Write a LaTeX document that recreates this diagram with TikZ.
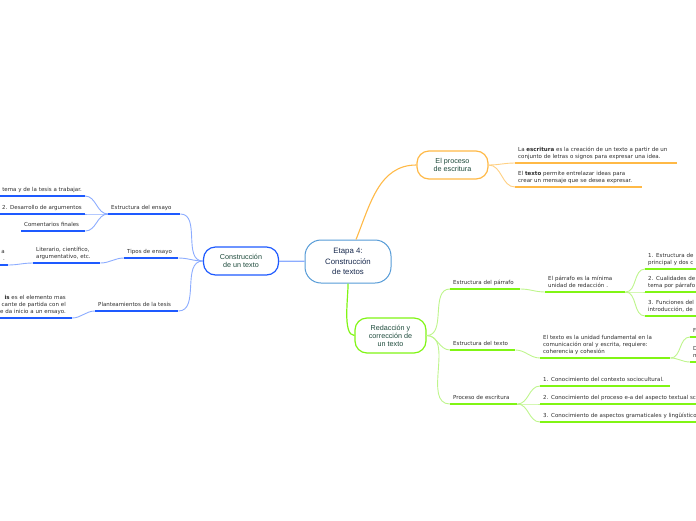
\documentclass[tikz,border=0pt]{standalone}
\usepackage{fontspec}
\setmainfont{DejaVu Sans}
\newfontfamily\topicfont{Liberation Sans}
\usetikzlibrary{positioning}

\definecolor{bluemain}{RGB}{30,90,255}
\definecolor{bluesoft}{RGB}{140,172,255}
\definecolor{rootblue}{RGB}{85,155,215}
\definecolor{greenmain}{RGB}{128,245,20}
\definecolor{greensoft}{RGB}{190,245,140}
\definecolor{orangemain}{RGB}{255,185,70}
\definecolor{orangesoft}{RGB}{255,208,130}
\definecolor{topictext}{RGB}{30,75,60}
\definecolor{roottext}{RGB}{25,42,78}
\definecolor{leaftext}{RGB}{45,45,45}

\begin{document}
\begin{tikzpicture}[
    x=1pt, y=1pt,
    root/.style={draw=rootblue, line width=1pt, fill=white, rounded corners=16pt, minimum width=86pt, minimum height=43pt, align=center, text=roottext, font=\topicfont\fontsize{7.8}{10.8}\selectfont},
    topic/.style={line width=1.2pt, fill=white, rounded corners=12pt, minimum width=72pt, align=center, text=topictext, font=\topicfont\fontsize{7.2}{8}\selectfont},
    leaf/.style={anchor=south west, inner xsep=3pt, inner ysep=3pt, align=left, text=leaftext, font=\fontsize{5.5}{7}\selectfont, execute at end node={\rule[-1.4pt]{0pt}{1pt}}},
    lleaf/.style={leaf, anchor=south east, align=right, text width=140pt},
    bline/.style={bluemain, line width=1.7pt},
    bcurve/.style={bluesoft, line width=0.9pt},
    gline/.style={greenmain, line width=1.7pt},
    gcurve/.style={greensoft, line width=0.9pt},
    oline/.style={orangemain, line width=1.5pt},
    ocurve/.style={orangesoft, line width=0.9pt}
]
    \useasboundingbox (0,0) rectangle (696,-520);
    \clip (0,0) rectangle (696,-520);

    % Central topic and main branches
    \node[root] (root) at (348,-261.5) {Etapa 4:\\Construcción\\de textos};
    \node[topic, draw=bluemain, minimum width=75pt, minimum height=28pt] (constr) at (241,-261) {Construcción\\de un texto};
    \node[topic, draw=orangemain, minimum width=71pt, minimum height=28pt] (escr) at (452.5,-165) {El proceso\\de escritura};
    \node[topic, draw=greenmain, minimum width=71pt, minimum height=35pt] (redac) at (390.5,-335.5) {Redacción y\\corrección de\\un texto};

    \draw[bluesoft, line width=1.2pt] (root) -- (constr);
    \draw[orangemain, line width=1.1pt] (root.70) to[out=68,in=180] (escr.west);
    \draw[greenmain, line width=1.2pt] (root.south) to[out=-88,in=180,looseness=0.6] (redac.west);

    % Construccion de un texto
    \node[leaf, text width=66pt] (ensayo) at (108,-214) {Estructura del ensayo};
    \node[leaf, text width=48pt] (tipos) at (124,-258) {Tipos de ensayo};
    \node[leaf, text width=77pt] (plant) at (95,-311) {Planteamientos de la tesis};
    \node[lleaf] (intro) at (85,-196) {tema y de la tesis a trabajar.};
    \node[lleaf] (desarr) at (85,-214) {2. Desarrollo de argumentos};
    \node[leaf, text width=58pt] (coment) at (21,-231) {Comentarios finales};
    \node[leaf, text width=61pt] (generos) at (33,-263) {Literario, científico,\\argumentativo, etc.};
    \node[lleaf] (generosx) at (8,-265) {a\\.};
    \node[lleaf, inner xsep=6pt] (tesis) at (72,-318) {\textbf{is} es el elemento mas\\cante de partida con el\\e da inicio a un ensayo.};

    \foreach \n in {ensayo,tipos,plant}
        \draw[bcurve] (constr.west) to[out=180,in=0] (\n.south east);
    \foreach \n in {intro,desarr,coment}
        \draw[bcurve] (ensayo.south west) to[out=180,in=0] (\n.south east);
    \draw[bcurve] (tipos.south west) to[out=180,in=0] (generos.south east);
    \draw[bcurve] (generos.south west) to[out=180,in=0] (generosx.south east);
    \draw[bcurve] (plant.south west) to[out=180,in=0] (tesis.south east);
    \foreach \n in {ensayo,tipos,plant,intro,desarr,coment,generos,generosx,tesis}
        \draw[bline] (\n.south west) -- (\n.south east);

    % El proceso de escritura
    \node[leaf, text width=156pt] (escrdef) at (515,-163) {La \textbf{escritura} es la creación de un texto a partir de un\\conjunto de letras o signos para expresar una idea.};
    \node[leaf, text width=121pt] (textodef) at (515,-187) {El \textbf{texto} permite entrelazar ideas para\\crear un mensaje que se desea expresar.};

    \foreach \n in {escrdef,textodef} {
        \draw[ocurve] (escr.east) to[out=0,in=180] (\n.south west);
        \draw[oline] (\n.south west) -- (\n.south east);
    }

    % Redaccion y correccion de un texto
    \node[leaf, text width=64pt] (parrafo) at (450,-289) {Estructura del párrafo};
    \node[leaf, text width=59pt] (estext) at (450,-350) {Estructura del texto};
    \node[leaf, text width=61pt] (procesc) at (450,-404) {Proceso de escritura};

    \node[leaf, text width=74pt] (parrdef) at (545,-292) {El párrafo es la mínima\\unidad de redacción .};
    \node[leaf, text width=100pt] (par1) at (645,-269) {1. Estructura de\\principal y dos c};
    \node[leaf, text width=100pt] (par2) at (645,-292) {2. Cualidades de\\tema por párrafo};
    \node[leaf, text width=100pt] (par3) at (645,-316) {3. Funciones del\\introducción, de};

    \node[leaf, text width=124pt] (textdef) at (540,-358) {El texto es la unidad fundamental en la\\comunicación oral y escrita, requiere:\\coherencia y cohesión};
    \node[leaf, text width=30pt] (tex1) at (690,-337) {F};
    \node[leaf, text width=30pt] (tex2) at (690,-362) {D\\m};

    \node[leaf, text width=124pt] (con1) at (540,-386) {1. Conocimiento del contexto sociocultural.};
    \node[leaf, text width=200pt] (con2) at (540,-404) {2. Conocimiento del proceso e-a del aspecto textual sc};
    \node[leaf, text width=200pt] (con3) at (540,-422) {3. Conocimiento de aspectos gramaticales y lingüístico};

    \foreach \n in {parrafo,estext,procesc}
        \draw[gcurve] (redac.east) to[out=0,in=180] (\n.south west);
    \draw[gcurve] (parrafo.south east) to[out=0,in=180] (parrdef.south west);
    \foreach \n in {par1,par2,par3}
        \draw[gcurve] (parrdef.south east) to[out=0,in=180] (\n.south west);
    \draw[gcurve] (estext.south east) to[out=0,in=180] (textdef.south west);
    \foreach \n in {tex1,tex2}
        \draw[gcurve] (textdef.south east) to[out=0,in=180] (\n.south west);
    \foreach \n in {con1,con2,con3}
        \draw[gcurve] (procesc.south east) to[out=0,in=180] (\n.south west);
    \foreach \n in {parrafo,estext,procesc,parrdef,par1,par2,par3,textdef,tex1,tex2,con1,con2,con3}
        \draw[gline] (\n.south west) -- (\n.south east);
\end{tikzpicture}
\end{document}
